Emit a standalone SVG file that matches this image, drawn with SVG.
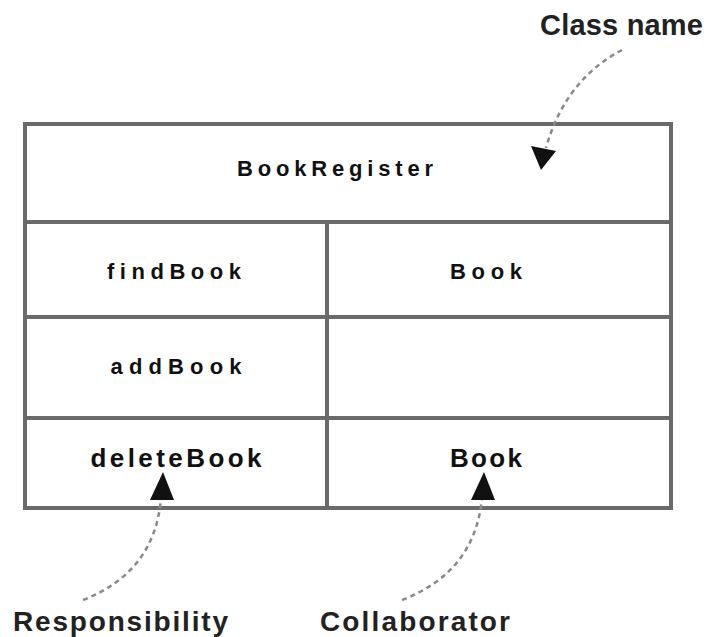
<svg xmlns="http://www.w3.org/2000/svg" width="708" height="637" viewBox="0 0 708 637">
<style>
.grid{stroke:#6a6a6a;stroke-width:4;fill:none}
.t{font-family:"Liberation Sans",Arial,sans-serif;font-weight:bold;fill:#111;text-anchor:middle}
.lbl{font-family:"Liberation Sans",Arial,sans-serif;font-weight:bold;fill:#222}
.con{stroke:#8a8a8a;stroke-width:2.5;stroke-dasharray:5 4;fill:none}
.head{fill:#111}
</style>
<rect width="708" height="637" fill="#fff"/>
<g id="card">
<rect class="grid" x="25" y="124" width="646" height="384"/>
<line class="grid" x1="25" y1="222" x2="671" y2="222"/>
<line class="grid" x1="25" y1="317" x2="671" y2="317"/>
<line class="grid" x1="25" y1="418" x2="671" y2="418"/>
<line class="grid" x1="327" y1="222" x2="327" y2="508"/>
</g>
<g id="classname"><text class="t" x="335" y="176" font-size="22" textLength="196" lengthAdjust="spacing">BookRegister</text></g>
<g id="findBook"><text class="t" x="174" y="279" font-size="22" textLength="134" lengthAdjust="spacing">findBook</text></g>
<g id="book1"><text class="t" x="486" y="279" font-size="22" textLength="72" lengthAdjust="spacing">Book</text></g>
<g id="addBook"><text class="t" x="176" y="374" font-size="22" textLength="131" lengthAdjust="spacing">addBook</text></g>
<g id="deleteBook"><text class="t" x="176" y="467" font-size="26" textLength="171" lengthAdjust="spacing">deleteBook</text></g>
<g id="book2"><text class="t" x="486" y="467" font-size="26" textLength="72" lengthAdjust="spacing">Book</text></g>
<g id="label-classname"><text class="lbl" x="540" y="35" font-size="29" textLength="163" lengthAdjust="spacing">Class name</text></g>
<g id="label-responsibility"><text class="lbl" x="13" y="631" font-size="28" textLength="215" lengthAdjust="spacing">Responsibility</text></g>
<g id="label-collaborator"><text class="lbl" x="320" y="631" font-size="28" textLength="190" lengthAdjust="spacing">Collaborator</text></g>
<g id="connectors">
<path class="con" d="M622,50 Q565,80 546,148"/>
<polygon class="head" points="541,170 531,146 556,151"/>
<path class="con" d="M83,600 Q155,572 161,498"/>
<polygon class="head" points="163,472 150,500 174,500"/>
<path class="con" d="M402,600 Q475,572 482,498"/>
<polygon class="head" points="484,472 471,500 495,500"/>
</g>
</svg>
